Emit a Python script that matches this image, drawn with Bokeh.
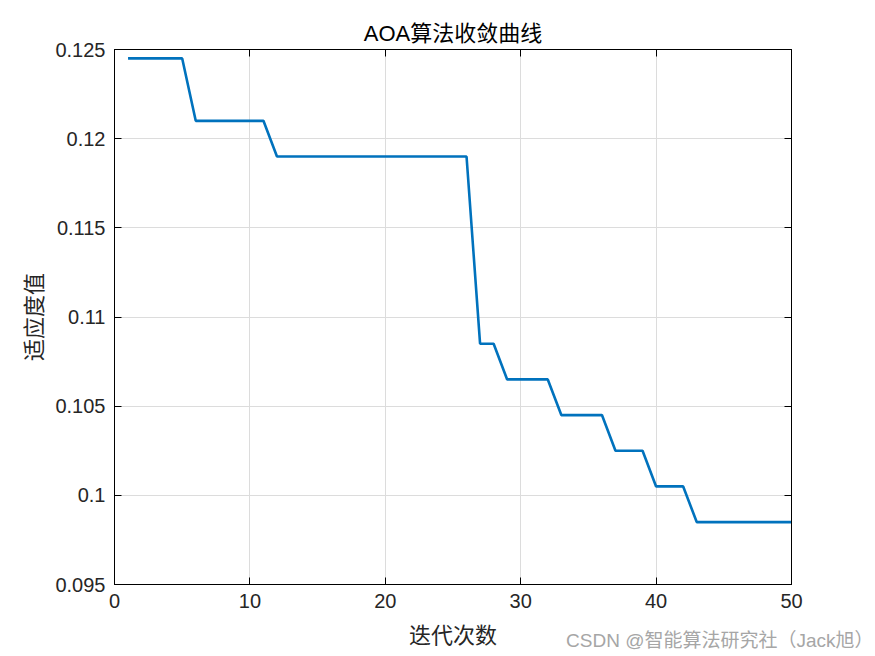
from bokeh.plotting import figure
from bokeh.models import FixedTicker, LinearAxis, Title, Range1d
from bokeh.embed import file_html
from bokeh.resources import INLINE

# Data
iterations = list(range(1, 51))
fitness = [0.1245, 0.1245, 0.1245, 0.1245, 0.1245,
           0.1210, 0.1210, 0.1210, 0.1210, 0.1210, 0.1210,
           0.1190, 0.1190, 0.1190, 0.1190, 0.1190, 0.1190, 0.1190, 0.1190,
           0.1190, 0.1190, 0.1190, 0.1190, 0.1190, 0.1190, 0.1190,
           0.1085, 0.1085,
           0.1065, 0.1065, 0.1065, 0.1065,
           0.1045, 0.1045, 0.1045, 0.1045,
           0.1025, 0.1025, 0.1025,
           0.1005, 0.1005, 0.1005,
           0.0985, 0.0985, 0.0985, 0.0985, 0.0985, 0.0985, 0.0985, 0.0985]
x_ticks = [0, 10, 20, 30, 40, 50]
y_ticks = [0.095, 0.1, 0.105, 0.11, 0.115, 0.12, 0.125]
y_tick_labels = ["0.095", "0.1", "0.105", "0.11", "0.115", "0.12", "0.125"]
title_text = "AOA算法收敛曲线"
x_label = "迭代次数"
y_label = "适应度值"
watermark = "CSDN @智能算法研究社（Jack旭）"

TICK_FONT = "Liberation Sans"
CJK_FONT = "Noto Sans CJK SC"
MIX_FONT = "'Liberation Sans', 'Noto Sans CJK SC'"

p = figure(width=873, height=654, output_backend="svg", toolbar_location=None,
           x_range=Range1d(0, 50), y_range=Range1d(0.095, 0.125),
           min_border_left=114, min_border_right=82, min_border_top=49,
           min_border_bottom=70)
p.background_fill_color = "white"
p.border_fill_color = "white"
p.outline_line_color = "black"
p.outline_line_width = 1

p.title.text = title_text
p.title.align = "center"
p.title.text_font = MIX_FONT
p.title.text_font_size = "22px"
p.title.text_font_style = "normal"
p.title.text_color = "black"
p.title.standoff = 7

p.line(iterations, fitness, line_color="#0072BD", line_width=2.6)

def style_axis(ax, labels=True):
    ax.axis_line_color = "black"
    ax.axis_line_width = 1
    ax.major_tick_in = 7
    ax.major_tick_out = 0
    ax.minor_tick_in = 0
    ax.minor_tick_out = 0
    ax.major_tick_line_color = "black"
    if labels:
        ax.major_label_text_font = TICK_FONT
        ax.major_label_text_font_size = "20px"
        ax.major_label_text_color = "#262626"
    else:
        ax.major_label_text_font_size = "0px"
        ax.major_label_text_alpha = 0

p.xaxis.ticker = FixedTicker(ticks=x_ticks)
p.yaxis.ticker = FixedTicker(ticks=y_ticks)
p.yaxis.major_label_overrides = {t: l for t, l in zip(y_ticks, y_tick_labels)}
style_axis(p.xaxis[0])
style_axis(p.yaxis[0])
p.xaxis.major_label_standoff = 9
p.yaxis.major_label_standoff = 9

p.xaxis.axis_label = x_label
p.xaxis.axis_label_text_font = CJK_FONT
p.xaxis.axis_label_text_font_size = "22px"
p.xaxis.axis_label_text_font_style = "normal"
p.xaxis.axis_label_text_color = "#262626"
p.xaxis.axis_label_standoff = 6

p.yaxis.axis_label = y_label
p.yaxis.axis_label_text_font = CJK_FONT
p.yaxis.axis_label_text_font_size = "22px"
p.yaxis.axis_label_text_font_style = "normal"
p.yaxis.axis_label_text_color = "#262626"
p.yaxis.axis_label_standoff = 4

right = LinearAxis(ticker=FixedTicker(ticks=y_ticks))
style_axis(right, labels=False)
p.add_layout(right, "right")
top = LinearAxis(ticker=FixedTicker(ticks=x_ticks))
style_axis(top, labels=False)
p.add_layout(top, "above")

p.xgrid.ticker = FixedTicker(ticks=x_ticks)
p.ygrid.ticker = FixedTicker(ticks=y_ticks)
p.grid.grid_line_color = "#dcdcdc"
p.grid.grid_line_width = 1

# watermark: a title in the lower panel, pulled up beside the x-axis label
wm = Title(text=watermark, align="right", vertical_align="top", offset=-82,
           standoff=-43, text_font=MIX_FONT, text_font_size="19px",
           text_font_style="normal", text_color="#a6a6a6")
p.add_layout(wm, "below")

open("out.html", "w").write(file_html(p, INLINE))
